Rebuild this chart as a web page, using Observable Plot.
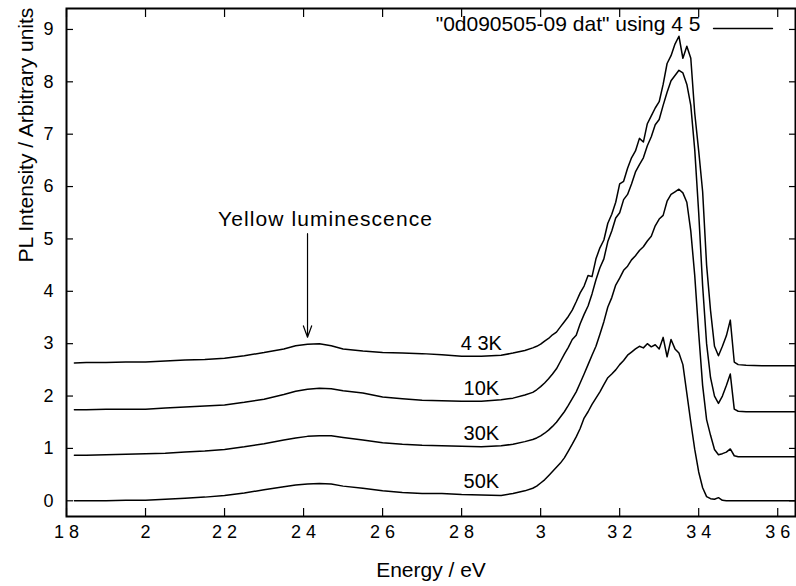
<!DOCTYPE html>
<html><head><meta charset="utf-8">
<script src="https://cdn.jsdelivr.net/npm/d3@7"></script>
<script src="https://cdn.jsdelivr.net/npm/@observablehq/plot@0.6"></script>
<style>
html,body{margin:0;padding:0;background:#fff;}
#chart svg{display:block;}
</style></head><body><div id="chart"></div>
<script>
const energy = [1.82,1.85,1.90,1.95,2.00,2.05,2.10,2.15,2.20,2.25,2.30,2.35,2.38,2.41,2.44,2.47,2.50,2.55,2.60,2.65,2.70,2.75,2.80,2.85,2.90,2.93,2.96,
2.98,2.99,3.00,3.01,3.02,3.03,3.04,3.05,3.06,3.07,3.08,3.09,3.10,3.11,3.12,3.13,3.14,3.15,3.16,3.17,3.18,3.19,3.20,3.21,3.22,3.23,3.24,3.25,3.26,3.27,3.28,3.29,3.30,3.31,3.32,3.33,3.34,3.35,3.36,3.37,3.38,3.39,3.40,3.41,3.42,3.43,3.44,3.45,3.46,3.47,3.48,3.49,3.50,
3.52,3.56,3.60,3.645];

const k43 = [2.63,2.64,2.64,2.65,2.65,2.67,2.69,2.70,2.72,2.77,2.83,2.90,2.96,2.99,3.00,2.96,2.90,2.86,2.83,2.82,2.81,2.79,2.76,2.76,2.78,2.82,2.87,
2.92,2.95,
2.99,3.05,3.10,3.17,3.22,3.32,3.42,3.52,3.64,3.80,
3.97,4.10,4.30,4.28,4.62,4.83,4.98,5.30,5.47,5.70,
6.05,6.10,6.35,6.55,6.68,6.92,6.85,7.20,7.35,7.50,
7.62,7.95,8.35,8.50,8.72,8.87,8.45,8.68,8.45,7.40,
6.68,5.90,4.50,3.63,2.95,2.77,2.95,3.15,3.45,2.65,
2.60,
2.59,2.58,2.58,2.58];

const k10 = [1.74,1.74,1.75,1.75,1.75,1.77,1.79,1.81,1.83,1.88,1.94,2.03,2.09,2.13,2.15,2.14,2.10,2.06,1.98,1.95,1.92,1.91,1.90,1.90,1.93,1.96,2.02,
2.07,2.12,
2.18,2.25,2.33,2.42,2.52,2.66,2.80,2.93,3.08,3.16,
3.38,3.56,3.72,3.95,4.22,4.45,4.62,4.95,5.15,5.40,
5.50,5.75,5.85,6.05,6.28,6.42,6.55,6.78,6.95,7.18,
7.28,7.55,7.80,8.02,8.12,8.22,8.17,7.95,7.55,6.70,
5.50,4.10,3.00,2.35,2.00,1.86,2.00,2.20,2.42,1.75,
1.71,
1.70,1.70,1.70,1.70];

const k30 = [0.87,0.87,0.88,0.89,0.90,0.91,0.93,0.95,0.98,1.03,1.09,1.16,1.20,1.23,1.24,1.24,1.21,1.16,1.11,1.08,1.06,1.05,1.04,1.03,1.05,1.08,1.13,
1.17,1.20,
1.24,1.29,1.35,1.42,1.50,1.60,1.70,1.82,1.95,2.08,
2.25,2.42,2.60,2.78,2.95,3.18,3.42,3.70,3.88,4.12,
4.25,4.40,4.48,4.60,4.68,4.78,4.85,4.96,5.05,5.25,
5.38,5.45,5.72,5.85,5.90,5.95,5.88,5.70,5.15,4.30,
3.20,2.20,1.55,1.25,0.98,0.88,0.90,0.93,0.99,0.86,
0.84,
0.84,0.84,0.84,0.84];

const k50 = [0.00,0.00,0.00,0.01,0.01,0.03,0.05,0.07,0.10,0.15,0.21,0.27,0.30,0.32,0.33,0.32,0.28,0.24,0.19,0.16,0.14,0.14,0.12,0.11,0.10,0.14,0.19,
0.24,0.28,
0.34,0.40,0.48,0.56,0.64,0.72,0.82,0.95,1.08,1.22,
1.38,1.58,1.70,1.84,1.96,2.08,2.22,2.35,2.42,2.50,
2.60,2.68,2.78,2.84,2.90,2.95,2.92,3.00,2.94,2.98,
2.90,3.12,2.75,3.08,2.90,2.82,2.60,2.05,1.50,0.98,
0.55,0.25,0.08,0.04,0.03,0.06,0.01,0.00,0.00,0.00,
0.00,
0.00,0.00,0.00,0.00];

const seriesNames = ["4 3K", "10K", "30K", "50K"];
const seriesValues = [k43, k10, k30, k50];

const xTicks = [1.8, 2.0, 2.2, 2.4, 2.6, 2.8, 3.0, 3.2, 3.4, 3.6];
const xTickLabels = ["1 8", "2", "2 2", "2 4", "2 6", "2 8", "3", "3 2", "3 4", "3 6"];
const yTicks = [0, 1, 2, 3, 4, 5, 6, 7, 8, 9];

const xTitle = "Energy / eV";
const yTitle = "PL Intensity / Arbitrary units";
const legendLabel = "\"0d090505-09 dat\" using 4 5";
const annotationText = "Yellow luminescence";
const yellowEnergy = 2.41;
const annotationTop = 5.1;
const labelEnergy = 2.85;

const rows = seriesNames.flatMap((s, k) => energy.map((e, i) => ({series: s, energy: e, value: seriesValues[k][i]})));
const labelRows = rows.filter(d => d.energy === labelEnergy);
const tipValue = k43[energy.indexOf(yellowEnergy)];
const arrowData = [{x: yellowEnergy, y1: annotationTop, y2: tipValue}];
const tickLabelMap = new Map(xTicks.map((t, i) => [t, xTickLabels[i]]));

const font = "'Liberation Sans', Arial, Helvetica, sans-serif";

const chart = Plot.plot({
  width: 796,
  height: 586,
  marginLeft: 66,
  marginRight: 1,
  marginTop: 8,
  marginBottom: 70,
  style: {fontFamily: font, fontSize: "18px", color: "#000", background: "#fff"},
  x: {domain: [1.8, 3.645]},
  y: {domain: [-0.3, 9.4]},
  marks: [
    Plot.line(rows, {x: "energy", y: "value", z: "series", stroke: "#000", strokeWidth: 1.5}),
    Plot.axisX({ticks: xTicks, anchor: "bottom", tickSize: -8, tickPadding: 17, tickFormat: d => tickLabelMap.get(d), fontSize: 18, label: null, strokeWidth: 1.2}),
    Plot.axisX({ticks: xTicks, anchor: "top", tickSize: -8, fill: "none", label: null, strokeWidth: 1.2}),
    Plot.axisY({ticks: yTicks, anchor: "left", tickSize: -7, tickPadding: 20, tickFormat: d => String(d), fontSize: 18, label: null, strokeWidth: 1.2}),
    Plot.axisY({ticks: yTicks, anchor: "right", tickSize: -7, fill: "none", label: null, strokeWidth: 1.2}),
    Plot.frame({stroke: "#000", strokeWidth: 2}),
    Plot.text([xTitle], {frameAnchor: "bottom", dy: 54, fontSize: 21, lineAnchor: "middle", fill: "#000"}),
    Plot.text([yTitle], {frameAnchor: "left", dx: -40, rotate: -90, fontSize: 21, lineAnchor: "middle", fill: "#000"}),
    Plot.text(labelRows, {x: "energy", y: "value", text: "series", dy: -13, fontSize: 20, lineAnchor: "middle", fill: "#000"}),
    Plot.arrow(arrowData, {x1: "x", x2: "x", y1: "y1", y2: "y2", insetEnd: 7, headLength: 15, headAngle: 40, stroke: "#000", strokeWidth: 1.2}),
    Plot.text(arrowData, {x: "x", y: "y1", text: () => annotationText, dx: 18, dy: -14, fontSize: 21, lineAnchor: "middle", fill: "#000"}),
    Plot.text([legendLabel], {frameAnchor: "top-right", dx: -95, dy: 16, textAnchor: "end", lineAnchor: "middle", fontSize: 21, fill: "#000"}),
    Plot.vector([legendLabel], {frameAnchor: "top-right", dx: -23, dy: 20, length: 59, rotate: -90, anchor: "start", stroke: "#000", strokeWidth: 1.3,
      shape: {draw(context, l) { context.moveTo(0, 0); context.lineTo(0, -l); }}})
  ]
});
d3.select(chart).selectAll("text")
  .filter(function() { return this.textContent === annotationText; })
  .attr("letter-spacing", "1.1px");
document.getElementById("chart").appendChild(chart);
</script>
</body></html>
